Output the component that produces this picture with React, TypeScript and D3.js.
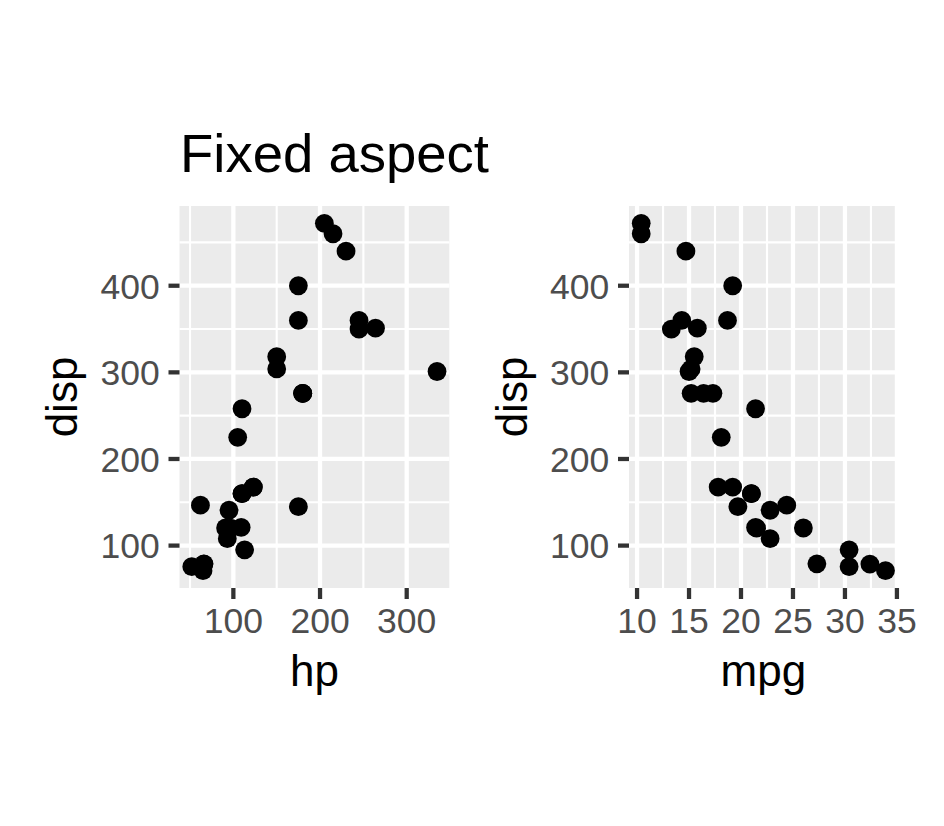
import React from "react";
import * as d3 from "d3";

const hp = [110, 110, 93, 110, 175, 105, 245, 62, 95, 123, 123, 180, 180, 180, 205, 215, 230, 66, 52, 65, 97, 150, 150, 245, 175, 66, 91, 113, 264, 175, 335, 109];
const disp = [160, 160, 108, 258, 360, 225, 360, 146.7, 140.8, 167.6, 167.6, 275.8, 275.8, 275.8, 472, 460, 440, 78.7, 75.7, 71.1, 120.1, 318, 304, 350, 400, 79, 120.3, 95.1, 351, 145, 301, 121];
const mpg = [21, 21, 22.8, 21.4, 18.7, 18.1, 14.3, 24.4, 22.8, 19.2, 17.8, 16.4, 17.3, 15.2, 10.4, 10.4, 14.7, 32.4, 30.4, 33.9, 21.5, 15.5, 15.2, 13.3, 19.2, 27.3, 26, 30.4, 15.8, 19.7, 15, 21.4];

const dispTicks = [100, 200, 300, 400];
const dispMinor = [150, 250, 350, 450];
const hpTicks = [100, 200, 300];
const hpMinor = [50, 150, 250];
const mpgTicks = [10, 15, 20, 25, 30, 35];
const mpgMinor = [12.5, 17.5, 22.5, 27.5, 32.5];

const FONT = "'Liberation Sans', Arial, sans-serif";

function expand(vals: number[]): [number, number] {
  const [lo, hi] = d3.extent(vals) as [number, number];
  const p = (hi - lo) * 0.05;
  return [lo - p, hi + p];
}

type PanelProps = {
  xVals: number[];
  yVals: number[];
  xTicks: number[];
  xMinor: number[];
  left: number;
  right: number;
  xLabel: string;
  yTitleX: number;
};

const TOP = 206;
const BOTTOM = 588;

function Panel({ xVals, yVals, xTicks, xMinor, left, right, xLabel, yTitleX }: PanelProps) {
  const x = d3.scaleLinear().domain(expand(xVals)).range([left, right]);
  const y = d3.scaleLinear().domain(expand(yVals)).range([BOTTOM, TOP]);
  const major = 4.27;
  const minor = 2.13;
  return (
    <g>
      <rect x={left} y={TOP} width={right - left} height={BOTTOM - TOP} fill="#EBEBEB" />
      {dispMinor.map((t) => (
        <line key={"ym" + t} x1={left} x2={right} y1={y(t)} y2={y(t)} stroke="#fff" strokeWidth={minor} />
      ))}
      {xMinor.map((t) => (
        <line key={"xm" + t} y1={TOP} y2={BOTTOM} x1={x(t)} x2={x(t)} stroke="#fff" strokeWidth={minor} />
      ))}
      {dispTicks.map((t) => (
        <line key={"yM" + t} x1={left} x2={right} y1={y(t)} y2={y(t)} stroke="#fff" strokeWidth={major} />
      ))}
      {xTicks.map((t) => (
        <line key={"xM" + t} y1={TOP} y2={BOTTOM} x1={x(t)} x2={x(t)} stroke="#fff" strokeWidth={major} />
      ))}
      {xVals.map((v, i) => (
        <circle key={"p" + i} cx={x(v)} cy={y(yVals[i])} r={9.4} fill="#000" />
      ))}
      {dispTicks.map((t) => (
        <g key={"yt" + t}>
          <line x1={left - 11} x2={left} y1={y(t)} y2={y(t)} stroke="#333333" strokeWidth={major} />
          <text x={left - 19.8} y={y(t)} dy="0.36em" textAnchor="end" fontSize={35.5} fill="#4D4D4D" fontFamily={FONT}>
            {t}
          </text>
        </g>
      ))}
      {xTicks.map((t) => (
        <g key={"xt" + t}>
          <line y1={BOTTOM} y2={BOTTOM + 11} x1={x(t)} x2={x(t)} stroke="#333333" strokeWidth={major} />
          <text x={x(t)} y={633.3} textAnchor="middle" fontSize={35.5} fill="#4D4D4D" fontFamily={FONT}>
            {t}
          </text>
        </g>
      ))}
      <text x={(left + right) / 2} y={685.7} textAnchor="middle" fontSize={44} fill="#000" fontFamily={FONT}>
        {xLabel}
      </text>
      <text
        transform={`translate(${yTitleX},${(TOP + BOTTOM) / 2}) rotate(-90)`}
        textAnchor="middle"
        fontSize={44}
        fill="#000"
        fontFamily={FONT}
      >
        disp
      </text>
    </g>
  );
}

export default function App() {
  return (
    <svg width={944} height={826} style={{ position: "absolute", left: 0, top: 0 }}>
      <rect width={944} height={826} fill="#fff" />
      <text x={180} y={171.7} fontSize={54.5} fill="#000" fontFamily={FONT}>
        Fixed aspect
      </text>
      <Panel xVals={hp} yVals={disp} xTicks={hpTicks} xMinor={hpMinor} left={179.5} right={449.3} xLabel="hp" yTitleX={77} />
      <Panel xVals={mpg} yVals={disp} xTicks={mpgTicks} xMinor={mpgMinor} left={629} right={897.7} xLabel="mpg" yTitleX={527} />
    </svg>
  );
}
